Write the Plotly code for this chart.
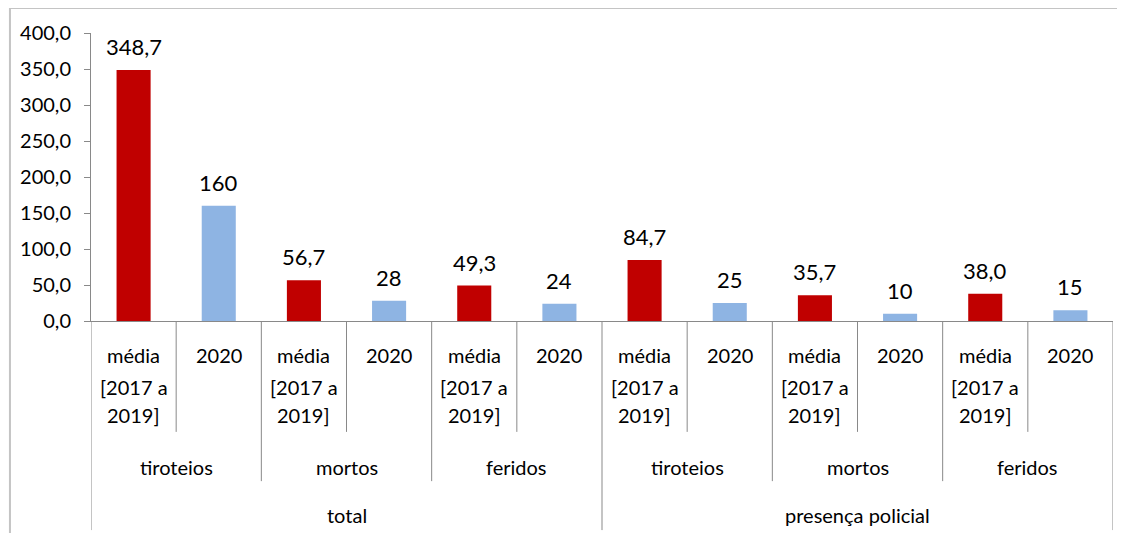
import plotly.graph_objects as go

# ---- data ----
groups = ["total", "presença policial"]
subgroups = ["tiroteios", "mortos", "feridos", "tiroteios", "mortos", "feridos"]
series_names = ["média [2017 a 2019]", "2020"]
media_vals = [348.7, 56.7, 49.3, 84.7, 35.7, 38.0]
y2020_vals = [160, 28, 24, 25, 10, 15]
media_label_lines = ["média", "[2017 a", "2019]"]
label_2020 = "2020"
y_ticks = [0, 50, 100, 150, 200, 250, 300, 350, 400]

RED = "#C00000"
BLUE = "#8EB4E3"
AXIS = "#898989"
FONT = "Lato"

n = len(media_vals)
x_media = [2 * i for i in range(n)]
x_2020 = [2 * i + 1 for i in range(n)]

fig = go.Figure()
fig.add_trace(go.Bar(x=x_media, y=media_vals, name=series_names[0],
                     marker=dict(color=RED, line=dict(width=0)), width=0.4))
fig.add_trace(go.Bar(x=x_2020, y=y2020_vals, name=series_names[1],
                     marker=dict(color=BLUE, line=dict(width=0)), width=0.4))

ann = []
# value labels
for x, v in zip(x_media, media_vals):
    ann.append(dict(x=x, y=v, xref="x", yref="y", text=f"{v:.1f}".replace(".", ","),
                    showarrow=False, yanchor="bottom", yshift=8,
                    font=dict(family=FONT, size=22, color="#000")))
for x, v in zip(x_2020, y2020_vals):
    ann.append(dict(x=x, y=v, xref="x", yref="y", text=f"{v:.0f}",
                    showarrow=False, yanchor="bottom", yshift=8,
                    font=dict(family=FONT, size=22, color="#000")))

cat_font = dict(family=FONT, size=20, color="#000")
line_y = [-0.118, -0.229, -0.326]
for x in x_media:
    for ly, t in zip(line_y, media_label_lines):
        ann.append(dict(x=x, y=ly, xref="x", yref="paper", text=t, showarrow=False,
                        yanchor="middle", font=cat_font))
for x in x_2020:
    ann.append(dict(x=x, y=line_y[0], xref="x", yref="paper", text=label_2020,
                    showarrow=False, yanchor="middle", font=cat_font))
for i, s in enumerate(subgroups):
    ann.append(dict(x=2 * i + 0.5, y=-0.507, xref="x", yref="paper", text=s,
                    showarrow=False, yanchor="middle", font=cat_font))
per_group = len(subgroups) // len(groups)
for g, name in enumerate(groups):
    c = (g * per_group * 2 + (g + 1) * per_group * 2 - 1) / 2
    ann.append(dict(x=c, y=-0.674, xref="x", yref="paper", text=name,
                    showarrow=False, yanchor="middle", font=cat_font))

shapes = []
total = 2 * n
for k in range(total + 1):
    b = k - 0.5
    if k % (per_group * 2) == 0:
        y1 = -0.726
    elif k % 2 == 0:
        y1 = -0.556
    else:
        y1 = -0.385
    shapes.append(dict(type="line", xref="x", yref="paper", x0=b, x1=b, y0=0, y1=y1,
                       line=dict(color=AXIS, width=1)))
# outer chart border (top and left visible)
shapes.append(dict(type="line", xref="paper", yref="paper", x0=-0.0793, x1=1.05,
                   y0=1.087, y1=1.087, line=dict(color="#C4C4C4", width=2)))
shapes.append(dict(type="line", xref="paper", yref="paper", x0=-0.0793, x1=-0.0793,
                   y0=1.087, y1=-0.8, line=dict(color="#C4C4C4", width=2)))

fig.update_layout(
    width=1117, height=525,
    margin=dict(l=83, r=12, t=25, b=212),
    paper_bgcolor="white", plot_bgcolor="white",
    separators=",.",
    showlegend=False,
    barmode="overlay",
    annotations=ann,
    shapes=shapes,
    xaxis=dict(range=[-0.5, total - 0.5], showticklabels=False, showgrid=False,
               zeroline=False, showline=True, linecolor=AXIS, linewidth=1, ticks=""),
    yaxis=dict(range=[0, 400], tickvals=y_ticks, tickformat=".1f", showgrid=False,
               zeroline=False, showline=True, linecolor=AXIS, linewidth=1,
               ticks="outside", ticklen=6, tickcolor=AXIS, ticklabelstandoff=9,
               tickfont=dict(family=FONT, size=20, color="#000")),
)

fig.write_html("out.html")
